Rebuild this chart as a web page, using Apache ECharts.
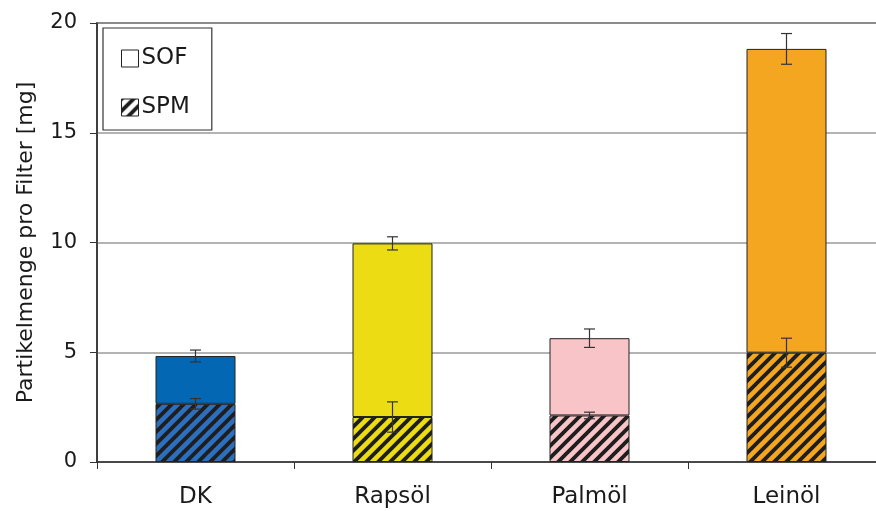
<!DOCTYPE html>
<html><head><meta charset="utf-8">
<script src="https://cdn.jsdelivr.net/npm/echarts/dist/echarts.min.js"></script>
<style>html,body{margin:0;padding:0;background:#fff}#c{width:876px;height:511px}</style>
</head><body><div id="c"></div>
<script>
const categories = ['DK', 'Rapsöl', 'Palmöl', 'Leinöl'];
const spmValues = [2.65, 2.05, 2.12, 4.98];
const sofValues = [2.18, 7.91, 3.52, 13.84];
const spmErrors = [0.24, 0.69, 0.15, 0.66];
const totalErrors = [0.27, 0.30, 0.42, 0.70];
const yTicks = [0, 5, 10, 15, 20];

const topColors = ['#0467b3', '#ecdc14', '#f9c4c7', '#f4a620'];
const hatchBase = ['#2c6fbf', '#ecdc14', '#f9c4c7', '#f4a620'];
const FONT = 'DejaVu Sans';

function hatch(base, stripe) {
  const c = document.createElement('canvas');
  c.width = 12; c.height = 12;
  const g = c.getContext('2d');
  g.fillStyle = base; g.fillRect(0, 0, 12, 12);
  g.strokeStyle = stripe; g.lineWidth = 3.8;
  g.beginPath();
  g.moveTo(-3, 15); g.lineTo(15, -3);
  g.moveTo(-9, 9); g.lineTo(9, -9);
  g.moveTo(3, 21); g.lineTo(21, 3);
  g.stroke();
  return { image: c, repeat: 'repeat' };
}

const spmData = spmValues.map((v, i) => ({ value: v, itemStyle: { color: hatch(hatchBase[i], '#1e1e1e') } }));
const sofData = sofValues.map((v, i) => ({ value: v, itemStyle: { color: topColors[i] } }));
const errData = [];
spmValues.forEach((v, i) => errData.push([i, v, spmErrors[i]]));
spmValues.forEach((v, i) => errData.push([i, v + sofValues[i], totalErrors[i]]));

const chart = echarts.init(document.getElementById('c'), null, { renderer: 'canvas' });
chart.setOption({
  animation: false,
  backgroundColor: '#fff',
  grid: { left: 97, width: 788, top: 23, bottom: 49, containLabel: false, outerBoundsMode: 'none',
          show: true, borderColor: '#333', borderWidth: 1.5, backgroundColor: 'transparent' },
  legend: {
    orient: 'vertical', left: 103, top: 28,
    padding: [19, 22, 11, 18], itemGap: 26,
    itemWidth: 17, itemHeight: 17,
    borderColor: '#333', borderWidth: 1.2, backgroundColor: '#fff',
    textStyle: { fontFamily: FONT, fontSize: 23, color: '#1a1a1a', padding: [0, 0, 0, -2] },
    data: [
      { name: 'SOF', icon: 'rect', itemStyle: { color: '#fff', borderColor: '#222', borderWidth: 1 } },
      { name: 'SPM', icon: 'rect', itemStyle: { color: hatch('#fff', '#1e1e1e'), borderColor: '#222', borderWidth: 1 } }
    ]
  },
  xAxis: {
    type: 'category', data: categories,
    axisLine: { lineStyle: { color: '#333', width: 1.5 } },
    axisTick: { show: true, alignWithLabel: false, length: 7, lineStyle: { color: '#333' } },
    axisLabel: { fontFamily: FONT, fontSize: 23, color: '#1a1a1a', margin: 24 },
    splitLine: { show: false }
  },
  yAxis: {
    type: 'value', min: yTicks[0], max: yTicks[yTicks.length - 1], interval: 5,
    name: 'Partikelmenge pro Filter [mg]', nameLocation: 'middle', nameGap: 60,
    nameTextStyle: { fontFamily: FONT, fontSize: 22, color: '#1a1a1a' },
    axisLine: { show: true, lineStyle: { color: '#333', width: 1.5 } },
    axisTick: { show: true, inside: false, length: 7, lineStyle: { color: '#333' } },
    axisLabel: { fontFamily: FONT, fontSize: 21, color: '#1a1a1a', margin: 20 },
    splitLine: { show: true, lineStyle: { color: '#9a9a9a', width: 1.5 } }
  },
  series: [
    { name: 'SPM', type: 'bar', stack: 't', barWidth: 80, data: spmData,
      itemStyle: { color: hatch('#fff', '#1e1e1e'), borderColor: '#222', borderWidth: 1 } },
    { name: 'SOF', type: 'bar', stack: 't', barWidth: 80, data: sofData,
      itemStyle: { color: '#fff', borderColor: '#222', borderWidth: 1 } },
    { name: 'err', type: 'custom', z: 10, data: errData, encode: { x: 0, y: 1 },
      renderItem: function (params, api) {
        const x = api.value(0), c = api.value(1), e = api.value(2);
        const hi = api.coord([x, c + e]);
        const lo = api.coord([x, c - e]);
        const hw = 5.5;
        const st = { stroke: '#333', lineWidth: 1.2 };
        return { type: 'group', children: [
          { type: 'line', shape: { x1: hi[0], y1: hi[1], x2: lo[0], y2: lo[1] }, style: st },
          { type: 'line', shape: { x1: hi[0] - hw, y1: hi[1], x2: hi[0] + hw, y2: hi[1] }, style: st },
          { type: 'line', shape: { x1: lo[0] - hw, y1: lo[1], x2: lo[0] + hw, y2: lo[1] }, style: st }
        ] };
      } }
  ]
});
</script></body></html>
